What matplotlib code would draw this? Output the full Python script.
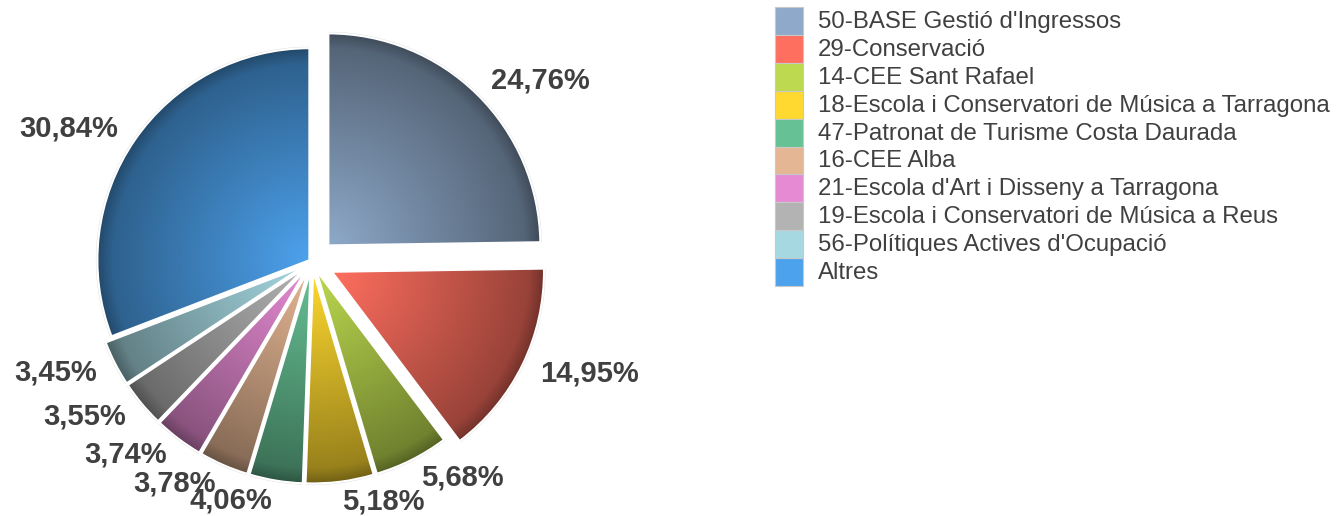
import numpy as np
import matplotlib
matplotlib.use("Agg")
import matplotlib.pyplot as plt
from matplotlib.colors import to_rgb
from matplotlib.patches import Rectangle, Wedge

# Data
labels = ["50-BASE Gestió d'Ingressos", "29-Conservació", "14-CEE Sant Rafael",
          "18-Escola i Conservatori de Música a Tarragona", "47-Patronat de Turisme Costa Daurada",
          "16-CEE Alba", "21-Escola d'Art i Disseny a Tarragona",
          "19-Escola i Conservatori de Música a Reus", "56-Polítiques Actives d'Ocupació", "Altres"]
values = [24.76, 14.95, 5.68, 5.18, 4.06, 3.78, 3.74, 3.55, 3.45, 30.84]
colors = ["#8ea9c9", "#ff6f5f", "#bcd94f", "#ffd92f", "#66c194",
          "#e5b693", "#e68bd3", "#b3b3b3", "#a6d8e1", "#4da2ed"]
explode = [0.11, 0.105, 0.045, 0.045, 0.045, 0.045, 0.045, 0.045, 0.045, 0.015]

plt.rcParams['font.family'] = ['Liberation Sans', 'DejaVu Sans']
text_color = "#404040"

W, H = 1341, 516
fig = plt.figure(figsize=(W / 100, H / 100), dpi=100)
ax = fig.add_axes([0, 0, 1, 1])

cx, cy, r = 312, 254, 212

# pie explode is in data units, so scale by the radius
wedges, _ = ax.pie(values, explode=[e * r for e in explode], startangle=90,
                   counterclock=False, center=(cx, cy), radius=r, colors=colors,
                   wedgeprops=dict(edgecolor="white", linewidth=1.5))

# radial shading for every slice, bright at the tip, dark at the rim
n = 300
xs = np.linspace(-1, 1, n)
X, Y = np.meshgrid(xs, xs)
t = np.clip(np.hypot(X, Y), 0, 1)
f = 1 - 0.43 * t
f = f - 0.12 * np.clip((t - 0.93) / 0.07, 0, 1)

for w, c, v in zip(wedges, colors, values):
    wx, wy = w.center
    rr = w.r
    # soft grey halo like the reference's shadow
    halo = Wedge((wx, wy), rr + 1.5, w.theta1, w.theta2, facecolor="#d0d0d0",
                 edgecolor="none", zorder=1.2, alpha=0.6)
    ax.add_patch(halo)
    img = np.ones((n, n, 4))
    base = np.array(to_rgb(c))
    img[..., :3] = base[None, None, :] * f[..., None]
    im = ax.imshow(img, extent=(wx - rr, wx + rr, wy - rr, wy + rr), origin="lower",
                   aspect="auto", zorder=1.5, interpolation="bilinear")
    im.set_clip_path(w)
    w.set_facecolor("none")
    w.set_zorder(2)

    # percentage label
    mid = np.deg2rad((w.theta1 + w.theta2) / 2)
    lx = wx + 1.095 * rr * np.cos(mid)
    ly = wy + 1.095 * rr * np.sin(mid)
    ax.text(lx, ly, f"{v:.2f}%".replace(".", ","), fontsize=21, fontweight="bold",
            color=text_color, ha="left" if np.cos(mid) > 0 else "right", va="center",
            zorder=5)

# legend: contiguous swatches
sw_x, sw_top, sw = 775, H - 7, 27.9
for i, (lab, c) in enumerate(zip(labels, colors)):
    y0 = sw_top - (i + 1) * sw
    ax.add_patch(Rectangle((sw_x, y0), sw, sw, facecolor=c, edgecolor="#c8c8c8",
                           linewidth=0.8, zorder=3))
    ax.text(818, y0 + sw / 2 - 1, lab, fontsize=17.3, color=text_color,
            ha="left", va="center", zorder=3)

ax.set_xlim(0, W)
ax.set_ylim(0, H)
ax.axis("off")

fig.savefig("out.png", dpi=100)
